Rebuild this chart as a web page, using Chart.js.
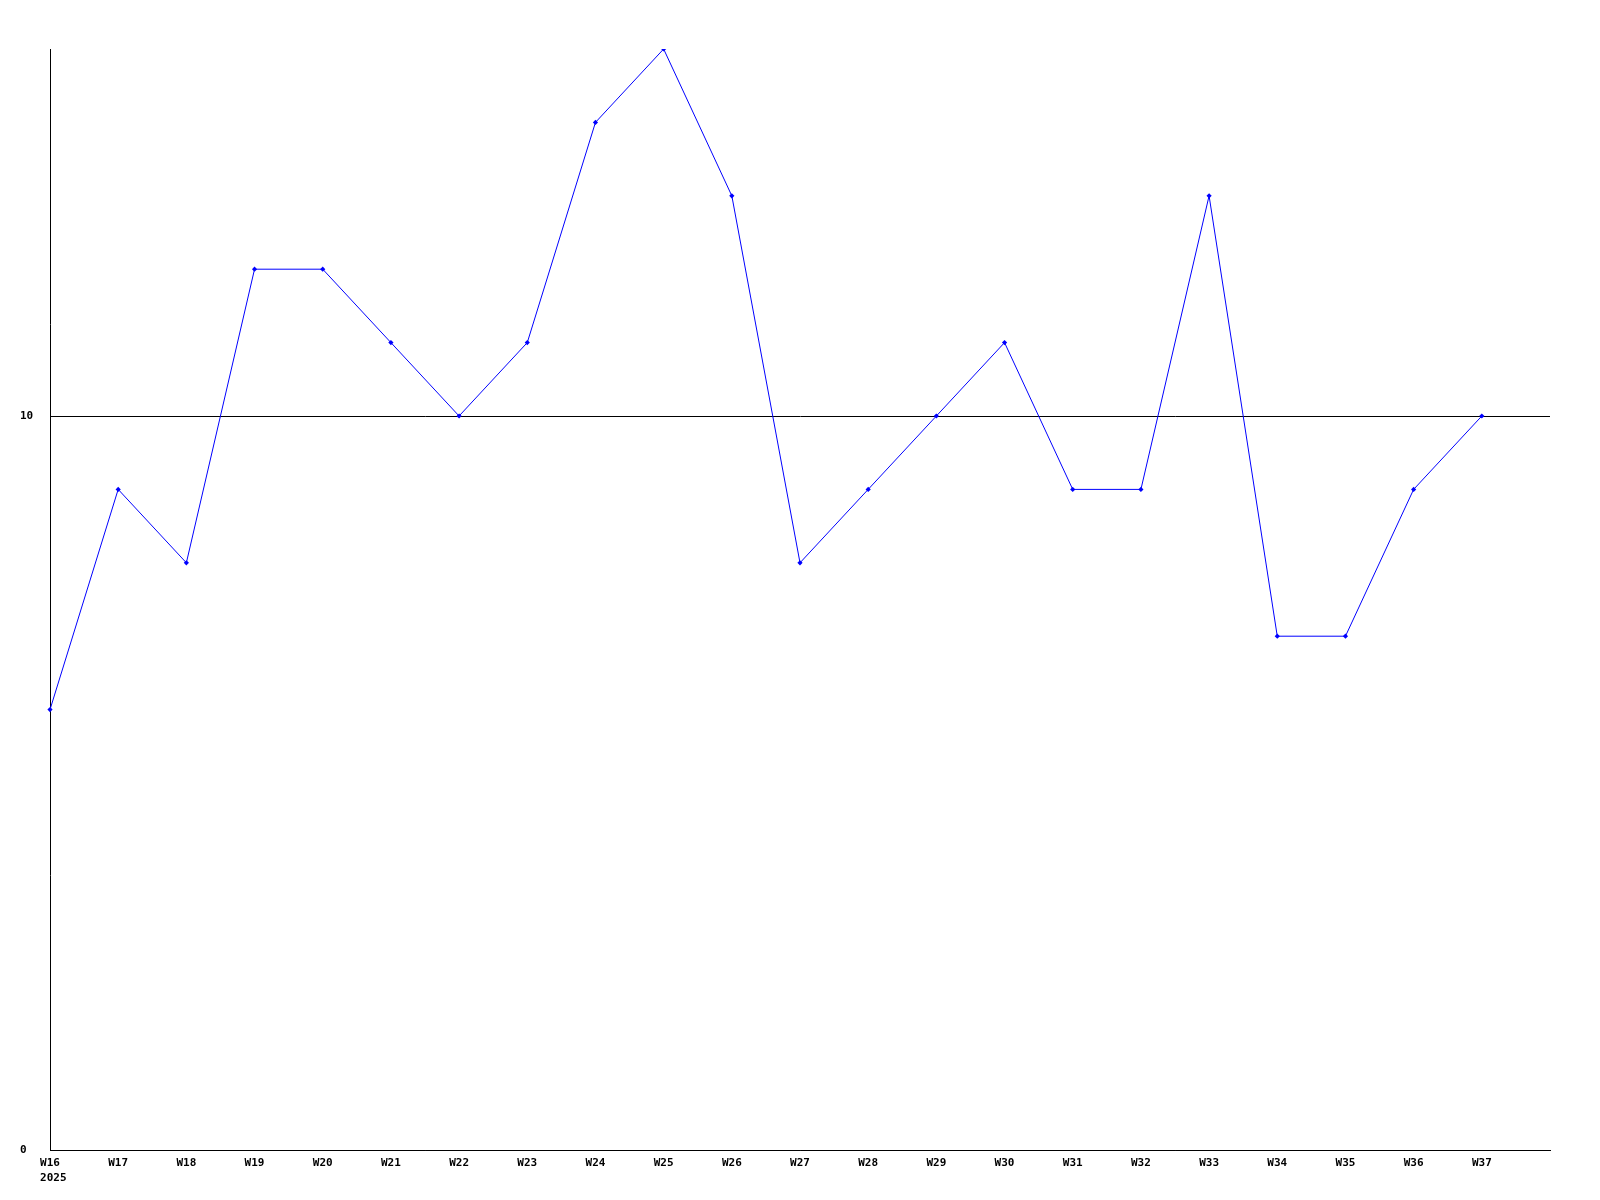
<!DOCTYPE html>
<html>
<head>
<meta charset="utf-8">
<script src="https://cdn.jsdelivr.net/npm/chart.js@4/dist/chart.umd.min.js"></script>
<style>
html,body{margin:0;padding:0;background:#fff;}
canvas{display:block;}
</style>
</head>
<body>
<canvas id="c" width="1600" height="1200"></canvas>
<script>
const weeks = ['W16','W17','W18','W19','W20','W21','W22','W23','W24','W25','W26','W27','W28','W29','W30','W31','W32','W33','W34','W35','W36','W37',''];
const yearLabel = '2025';
const values = [6,9,8,12,12,11,10,11,14,15,13,8,9,10,11,9,9,13,7,7,9,10];
const yTicks = [0,10];
const yMin = 0, yMax = 15;

const labels = weeks.map((w,i) => i === 0 ? [w, ' ' + yearLabel] : w);
const font = {family: '"DejaVu Sans Mono", "Liberation Mono", monospace', size: 11, weight: 'bold', lineHeight: 1.35};

new Chart(document.getElementById('c'), {
  type: 'line',
  data: {
    labels: labels,
    datasets: [{
      data: values,
      borderColor: '#0000ff',
      backgroundColor: '#0000ff',
      borderWidth: 1,
      pointStyle: 'rectRot',
      pointRadius: 2.6,
      pointBorderWidth: 0,
      tension: 0,
      fill: false
    }]
  },
  options: {
    responsive: false,
    animation: false,
    devicePixelRatio: 1,
    layout: {padding: {top: 49, right: 50, left: 20, bottom: 0}},
    plugins: {legend: {display: false}, tooltip: {enabled: false}},
    scales: {
      x: {
        type: 'category',
        offset: false,
        grid: {display: false, drawTicks: false},
        border: {color: '#000', width: 1},
        ticks: {color: '#000', font: font, padding: 6, maxRotation: 0, autoSkip: false, align: 'center'},
        afterFit: (s) => { s.height = 50; }
      },
      y: {
        min: yMin, max: yMax,
        afterBuildTicks: (s) => { s.ticks = yTicks.map(v => ({value: v})); },
        grid: {color: '#000', lineWidth: 1, drawTicks: false},
        border: {color: '#000', width: 1},
        ticks: {color: '#000', font: font, crossAlign: 'far', padding: 0},
        afterFit: (s) => { s.width = 30; }
      }
    }
  }
});
</script>
</body>
</html>
